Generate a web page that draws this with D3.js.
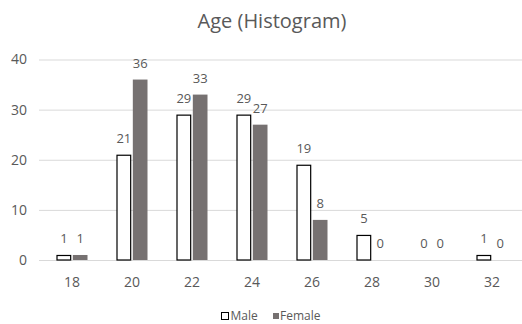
<!DOCTYPE html>
<html><head><meta charset="utf-8">
<script src="https://cdn.jsdelivr.net/npm/d3@7"></script>
<style>
html,body{margin:0;padding:0;background:#fff;}
svg{display:block;font-family:"Open Sans","Noto Sans",sans-serif;}
</style></head>
<body><svg id="c" width="522" height="324"></svg>
<script>
const categories = ["18","20","22","24","26","28","30","32"];
const maleValues = [1,21,29,29,19,5,0,1];
const femaleValues = [1,36,33,27,8,0,0,0];
const yTicks = [0,10,20,30,40];
const seriesNames = ["Male","Female"];
const titleText = "Age (Histogram)";

const FONT = '"Open Sans","Noto Sans",sans-serif';
const svg = d3.select("#c");
const W = 522, H = 324;
const m = {left:42, right:0, top:59.5, bottom:64};
const x = d3.scaleBand().domain(categories).range([m.left, W - m.right]).paddingInner(0).paddingOuter(0);
const y = d3.scaleLinear().domain([0,40]).range([H - m.bottom, m.top]);
const xs = d3.scaleBand().domain(seriesNames).range([-15.5, 15.5]).paddingInner(0.1);

// gridlines
const gy = svg.append("g").attr("transform",`translate(${m.left - 3},0)`)
  .call(d3.axisLeft(y).tickValues(yTicks).tickSize(-(W - m.left + 3)).tickPadding(12).tickFormat(d3.format("d")))
  .attr("font-family", FONT);
gy.select(".domain").remove();
gy.selectAll(".tick line").attr("stroke","#d9d9d9").attr("stroke-width",1);
gy.selectAll(".tick text").attr("fill","#595959").attr("font-size","14px");

// x axis
const gx = svg.append("g").attr("transform",`translate(0,${H - m.bottom})`)
  .call(d3.axisBottom(x).tickSize(0).tickPadding(17))
  .attr("font-family", FONT);
gx.select(".domain").remove();
gx.selectAll(".tick text").attr("fill","#595959").attr("font-size","14px");

const data = categories.map((c,i)=>({c, vals:[{s:"Male",v:maleValues[i]},{s:"Female",v:femaleValues[i]}]}));
const groups = svg.append("g").selectAll("g").data(data).join("g")
  .attr("transform", d=>`translate(${x(d.c)+x.bandwidth()/2},0)`);

groups.selectAll("rect").data(d=>d.vals.filter(e=>e.v>0)).join("rect")
  .attr("x", e=>xs(e.s) + (e.s==="Male"?0.5:0))
  .attr("y", e=>y(e.v) + (e.s==="Male"?0.5:0))
  .attr("width", e=>xs.bandwidth() - (e.s==="Male"?1:0))
  .attr("height", e=>y(0)-y(e.v) - (e.s==="Male"?0.5:0))
  .attr("fill", e=>e.s==="Male"?"#ffffff":"#767171")
  .attr("stroke", e=>e.s==="Male"?"#000000":"none")
  .attr("stroke-width",1.2);

groups.selectAll("text").data(d=>d.vals).join("text")
  .attr("x", e=>xs(e.s)+xs.bandwidth()/2)
  .attr("y", e=>y(e.v)-12)
  .attr("text-anchor","middle")
  .attr("fill","#595959")
  .attr("font-size","13px")
  .text(e=>e.v);

// title
svg.append("text").attr("x",272).attr("y",28).attr("text-anchor","middle")
  .attr("fill","#595959").attr("font-size","20px").text(titleText);

// legend
const lg = svg.append("g").attr("transform","translate(221,0)");
lg.append("rect").attr("x",0.5).attr("y",312.5).attr("width",7).attr("height",7)
  .attr("fill","#fff").attr("stroke","#000").attr("stroke-width",1);
lg.append("text").attr("x",9.5).attr("y",320).attr("fill","#595959").attr("font-size","12px").text(seriesNames[0]);
lg.append("rect").attr("x",52).attr("y",313).attr("width",6).attr("height",6).attr("fill","#767171");
lg.append("text").attr("x",59).attr("y",320).attr("fill","#595959").attr("font-size","12px").text(seriesNames[1]);
</script></body></html>
